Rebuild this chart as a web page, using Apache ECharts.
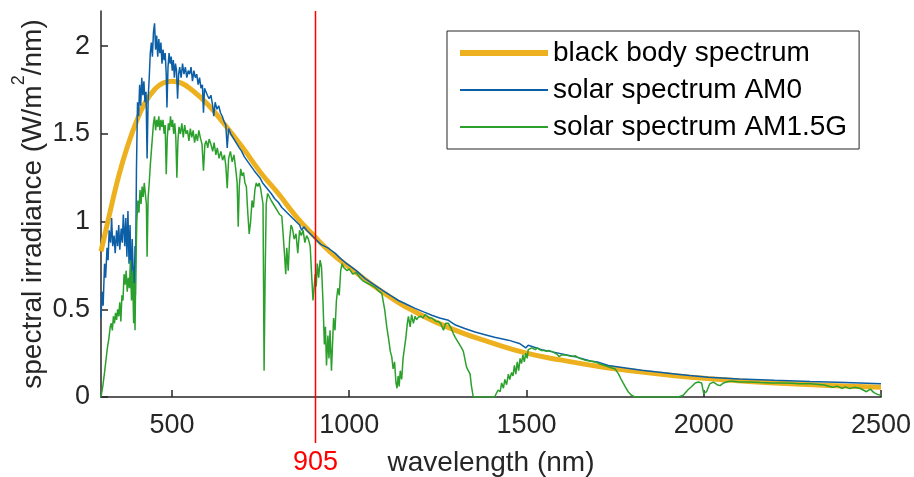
<!DOCTYPE html>
<html>
<head>
<meta charset="utf-8">
<script src="https://cdn.jsdelivr.net/npm/echarts@6/dist/echarts.min.js"></script>
<style>
html, body { margin: 0; padding: 0; background: #fff; }
#chart { width: 914px; height: 477px; }
</style>
</head>
<body>
<div id="chart"></div>
<script>
// black body curve
const bbWavelength = [300, 325, 350, 375, 400, 425, 450, 475, 500, 525, 550, 600, 650, 700, 750, 800,
  850, 900, 950, 1000, 1100, 1200, 1300, 1400, 1500, 1600, 1700, 1800, 1900, 2000, 2200, 2500];
const bbIrradiance = [0.83, 1.05, 1.26, 1.43, 1.57, 1.68, 1.75, 1.79, 1.80, 1.79, 1.76, 1.67, 1.55, 1.42, 1.28, 1.16,
  1.03, 0.92, 0.82, 0.74, 0.59, 0.47, 0.38, 0.31, 0.25, 0.21, 0.175, 0.148, 0.125, 0.107, 0.08, 0.055];

// AM0
const am0Wavelength = [300, 303, 306, 310, 313, 317, 320, 323, 327, 330, 333, 337, 340, 344, 347, 350, 353, 357, 360, 363,
  367, 370, 373, 376, 379, 382, 385, 388, 391, 393, 396, 397, 400, 403, 406, 409, 412, 415, 418, 421,
  424, 427, 430, 433, 436, 439, 442, 445, 448, 451, 454, 457, 460, 463, 466, 469, 472, 475, 478, 481,
  484, 486, 489, 492, 495, 498, 501, 504, 507, 510, 513, 516, 519, 522, 526, 530, 534, 538, 542, 546,
  550, 554, 558, 562, 566, 570, 574, 578, 582, 586, 589, 592, 596, 600, 605, 610, 615, 618, 622, 627,
  632, 637, 642, 647, 652, 656, 660, 666, 672, 678, 684, 690, 697, 704, 711, 718, 725, 732, 740, 748,
  756, 764, 772, 780, 790, 800, 810, 820, 830, 840, 850, 860, 866, 872, 880, 890, 900, 910, 920, 930,
  940, 950, 960, 975, 990, 1000, 1020, 1045, 1070, 1092, 1115, 1139, 1160, 1186, 1210, 1233, 1255, 1280, 1300, 1326,
  1355, 1383, 1410, 1449, 1480, 1498, 1505, 1543, 1590, 1637, 1680, 1700, 1731, 1780, 1825, 1870, 1919, 1960, 2013, 2100,
  2200, 2300, 2400, 2500];
const am0Irradiance = [0.45, 0.60, 0.52, 0.76, 0.68, 0.85, 0.78, 0.95, 0.88, 1.02, 0.86, 0.92, 0.82, 0.95, 0.86, 0.98, 0.84, 0.96, 0.88, 1.04,
  0.86, 1.02, 0.80, 1.06, 0.76, 0.98, 0.62, 0.90, 0.70, 0.55, 0.86, 0.58, 1.30, 1.68, 1.60, 1.78, 1.66, 1.82, 1.72, 1.80,
  1.68, 1.74, 1.36, 1.70, 1.82, 1.96, 2.02, 1.94, 2.08, 2.13, 1.98, 2.06, 1.94, 2.04, 1.96, 2.02, 1.90, 1.98, 1.92, 1.96,
  1.84, 1.65, 1.88, 1.96, 1.90, 1.94, 1.86, 1.92, 1.82, 1.90, 1.86, 1.70, 1.84, 1.88, 1.82, 1.90, 1.84, 1.88, 1.82, 1.86,
  1.84, 1.88, 1.80, 1.86, 1.82, 1.84, 1.78, 1.82, 1.76, 1.78, 1.62, 1.76, 1.74, 1.72, 1.70, 1.72, 1.66, 1.60, 1.68, 1.64,
  1.66, 1.62, 1.60, 1.57, 1.55, 1.42, 1.53, 1.50, 1.48, 1.46, 1.44, 1.42, 1.40, 1.37, 1.35, 1.33, 1.31, 1.29, 1.27, 1.25,
  1.22, 1.20, 1.18, 1.16, 1.13, 1.11, 1.08, 1.06, 1.04, 1.02, 1.00, 0.98, 0.95, 0.97, 0.95, 0.93, 0.91, 0.89, 0.87, 0.86,
  0.85, 0.835, 0.82, 0.79, 0.765, 0.75, 0.72, 0.675, 0.64, 0.61, 0.58, 0.55, 0.53, 0.505, 0.485, 0.466, 0.45, 0.437, 0.41, 0.39,
  0.37, 0.355, 0.34, 0.324, 0.305, 0.28, 0.295, 0.27, 0.25, 0.23, 0.205, 0.20, 0.18, 0.165, 0.153, 0.142, 0.131, 0.122, 0.113, 0.103,
  0.095, 0.088, 0.082, 0.075];

// AM1.5G
const am15Wavelength = [300, 305, 310, 314, 318, 322, 326, 329, 332, 335, 338, 341, 344, 347, 350, 353, 356, 359, 362, 365,
  368, 371, 374, 377, 380, 383, 386, 389, 392, 394, 396, 398, 401, 404, 407, 410, 413, 416, 419, 422,
  425, 428, 430, 433, 436, 439, 442, 445, 448, 451, 454, 457, 460, 463, 466, 469, 472, 475, 478, 481,
  484, 487, 490, 493, 496, 499, 502, 505, 508, 511, 514, 517, 520, 524, 528, 532, 536, 540, 544, 548,
  552, 556, 560, 564, 568, 572, 576, 580, 585, 589, 593, 597, 601, 605, 610, 615, 619, 624, 628, 633,
  638, 643, 648, 652, 656, 660, 665, 670, 675, 680, 684, 687, 690, 694, 698, 702, 706, 710, 714, 718,
  722, 726, 730, 734, 738, 742, 746, 750, 754, 757, 760, 763, 766, 770, 775, 780, 786, 792, 798, 804,
  810, 814, 818, 821, 824, 828, 832, 836, 840, 845, 850, 855, 860, 865, 870, 875, 880, 885, 890, 894,
  898, 901, 904, 907, 910, 914, 918, 922, 926, 930, 933, 936, 940, 943, 946, 950, 953, 956, 960, 964,
  968, 972, 976, 980, 984, 988, 994, 1000, 1010, 1020, 1030, 1040, 1050, 1060, 1073, 1085, 1092, 1100, 1106, 1112,
  1116, 1120, 1124, 1128, 1132, 1135, 1138, 1141, 1144, 1148, 1152, 1156, 1160, 1164, 1167, 1172, 1176, 1181, 1186, 1190,
  1195, 1202, 1208, 1214, 1220, 1226, 1233, 1240, 1246, 1252, 1258, 1266, 1272, 1280, 1288, 1294, 1299, 1305, 1311, 1317,
  1322, 1326, 1331, 1336, 1341, 1345, 1350, 1410, 1415, 1420, 1426, 1430, 1435, 1439, 1444, 1449, 1453, 1458, 1462, 1466,
  1470, 1474, 1478, 1482, 1486, 1490, 1494, 1498, 1502, 1505, 1510, 1515, 1519, 1525, 1531, 1537, 1543, 1550, 1556, 1562,
  1571, 1580, 1586, 1592, 1599, 1610, 1620, 1630, 1637, 1650, 1665, 1680, 1693, 1705, 1721, 1735, 1750, 1760, 1768, 1778,
  1787, 1796, 1806, 1928, 1942, 1955, 1966, 1976, 1985, 1994, 2000, 2003, 2008, 2017, 2027, 2038, 2046, 2056, 2064, 2075,
  2083, 2100, 2130, 2160, 2190, 2220, 2250, 2270, 2300, 2318, 2340, 2355, 2365, 2375, 2390, 2400, 2412, 2425, 2440, 2450,
  2459, 2470, 2480, 2490, 2500];
const am15Irradiance = [0.0, 0.06, 0.14, 0.21, 0.28, 0.33, 0.40, 0.42, 0.38, 0.46, 0.42, 0.48, 0.44, 0.50, 0.46, 0.54, 0.43, 0.58, 0.55, 0.70,
  0.64, 0.72, 0.60, 0.68, 0.62, 0.78, 0.55, 0.72, 0.42, 0.65, 0.38, 0.70, 1.00, 1.12, 1.05, 1.18, 1.10, 1.20, 1.14, 1.22,
  1.16, 1.10, 0.80, 1.14, 1.22, 1.32, 1.40, 1.48, 1.56, 1.60, 1.52, 1.58, 1.54, 1.60, 1.52, 1.58, 1.54, 1.58, 1.50, 1.55,
  1.27, 1.48, 1.56, 1.52, 1.60, 1.54, 1.58, 1.50, 1.56, 1.48, 1.25, 1.46, 1.54, 1.50, 1.56, 1.48, 1.55, 1.50, 1.52, 1.46,
  1.53, 1.48, 1.52, 1.45, 1.50, 1.46, 1.52, 1.48, 1.44, 1.29, 1.44, 1.46, 1.42, 1.47, 1.44, 1.40, 1.45, 1.38, 1.42, 1.36,
  1.40, 1.35, 1.38, 1.32, 1.19, 1.36, 1.40, 1.34, 1.38, 1.30, 1.22, 0.97, 1.20, 1.30, 1.26, 1.28, 1.22, 1.20, 1.05, 0.93,
  1.00, 1.12, 1.08, 1.18, 1.22, 1.20, 1.22, 1.19, 1.20, 1.10, 0.15, 0.70, 1.10, 1.16, 1.14, 1.12, 1.10, 1.08, 1.06, 1.04,
  1.03, 0.92, 0.80, 0.70, 0.85, 0.72, 0.90, 0.98, 0.96, 0.90, 0.93, 0.82, 0.95, 0.92, 0.95, 0.88, 0.92, 0.90, 0.86, 0.70,
  0.55, 0.62, 0.70, 0.63, 0.76, 0.68, 0.78, 0.74, 0.55, 0.30, 0.40, 0.18, 0.35, 0.22, 0.38, 0.15, 0.30, 0.45, 0.38, 0.55,
  0.62, 0.58, 0.72, 0.76, 0.74, 0.75, 0.72, 0.73, 0.70, 0.71, 0.68, 0.66, 0.65, 0.64, 0.625, 0.60, 0.59, 0.50, 0.40, 0.32,
  0.26, 0.23, 0.16, 0.20, 0.08, 0.05, 0.12, 0.06, 0.15, 0.10, 0.22, 0.28, 0.34, 0.42, 0.46, 0.40, 0.47, 0.42, 0.46, 0.44,
  0.455, 0.46, 0.45, 0.47, 0.46, 0.45, 0.45, 0.44, 0.43, 0.43, 0.42, 0.38, 0.42, 0.42, 0.39, 0.36, 0.34, 0.32, 0.30, 0.28,
  0.26, 0.22, 0.17, 0.15, 0.13, 0.06, 0.0, 0.0, 0.02, 0.04, 0.03, 0.08, 0.05, 0.10, 0.07, 0.13, 0.10, 0.14, 0.12, 0.18,
  0.13, 0.20, 0.15, 0.22, 0.19, 0.24, 0.20, 0.25, 0.22, 0.27, 0.26, 0.28, 0.28, 0.27, 0.28, 0.27, 0.265, 0.265, 0.26, 0.265,
  0.26, 0.25, 0.245, 0.23, 0.24, 0.24, 0.235, 0.23, 0.235, 0.22, 0.21, 0.205, 0.20, 0.19, 0.18, 0.17, 0.16, 0.13, 0.097, 0.06,
  0.03, 0.01, 0.0, 0.0, 0.01, 0.04, 0.06, 0.08, 0.085, 0.08, 0.02, 0.01, 0.03, 0.075, 0.085, 0.07, 0.065, 0.08, 0.085, 0.09,
  0.09, 0.085, 0.085, 0.082, 0.08, 0.08, 0.078, 0.076, 0.075, 0.072, 0.068, 0.06, 0.055, 0.062, 0.05, 0.058, 0.048, 0.055, 0.05, 0.04,
  0.03, 0.045, 0.025, 0.015, 0.01];

const xTicks = [500, 1000, 1500, 2000, 2500];
const yTicks = [0, 0.5, 1, 1.5, 2];
const laserWavelength = 905;

const pairs = (xs, ys) => xs.map((x, i) => [x, ys[i]]);

const font = 'Liberation Sans, Arial, Helvetica, sans-serif';
const axisColor = '#262626';

const chart = echarts.init(document.getElementById('chart'));
chart.setOption({
  animation: false,
  backgroundColor: '#fff',
  grid: { left: 101, right: 33, top: 11, bottom: 80, containLabel: false, outerBoundsMode: 'none' },
  legend: {
    orient: 'vertical',
    left: 447,
    top: 31,
    padding: [8, 12, 8, 10],
    itemWidth: 88,
    itemHeight: 14,
    itemGap: 9,
    borderColor: axisColor,
    borderWidth: 1,
    backgroundColor: '#fff',
    itemStyle: { opacity: 0 },
    textStyle: { fontFamily: font, fontSize: 28, color: '#000' },
    data: [
      { name: 'black body spectrum', lineStyle: { width: 6, opacity: 1 } },
      { name: 'solar spectrum AM0', lineStyle: { width: 2, opacity: 1 } },
      { name: 'solar spectrum AM1.5G', lineStyle: { width: 2, opacity: 1 } },
    ],
  },
  xAxis: {
    type: 'value',
    min: 300,
    max: 2500,
    name: 'wavelength (nm)',
    nameLocation: 'middle',
    nameGap: 52,
    nameMoveOverlap: false,
    nameTextStyle: { fontFamily: font, fontSize: 28, color: axisColor },
    axisLine: { lineStyle: { color: axisColor, width: 1.5 } },
    axisTick: { inside: true, length: 7, customValues: xTicks, lineStyle: { color: axisColor, width: 1.5 } },
    axisLabel: {
      customValues: xTicks,
      margin: 15,
      formatter: (v) => String(v),
      fontFamily: font,
      fontSize: 27,
      color: axisColor,
    },
    splitLine: { show: false },
  },
  yAxis: {
    type: 'value',
    min: 0,
    max: 2.2,
    name: 'spectral irradiance (W/m{sup|2}/nm)',
    nameLocation: 'middle',
    nameRotate: 90,
    nameGap: 45,
    nameMoveOverlap: false,
    nameTextStyle: {
      fontFamily: font,
      fontSize: 28,
      color: axisColor,
      rich: { sup: { fontFamily: font, fontSize: 18, color: axisColor, verticalAlign: 'bottom', padding: [0, 0, 28, 0] } },
    },
    axisLine: { show: true, lineStyle: { color: axisColor, width: 1.5 } },
    axisTick: { show: true, inside: true, length: 7, customValues: yTicks, lineStyle: { color: axisColor, width: 1.5 } },
    axisLabel: { customValues: yTicks, margin: 11, fontFamily: font, fontSize: 27, color: axisColor },
    splitLine: { show: false },
  },
  series: [
    {
      name: 'black body spectrum',
      type: 'line',
      smooth: true,
      symbol: 'none',
      color: '#EDB120',
      lineStyle: { width: 5, color: '#EDB120' },
      data: pairs(bbWavelength, bbIrradiance),
    },
    {
      name: 'solar spectrum AM0',
      type: 'line',
      symbol: 'none',
      color: '#0c5fa6',
      lineStyle: { width: 1.5, color: '#0c5fa6' },
      data: pairs(am0Wavelength, am0Irradiance),
    },
    {
      name: 'solar spectrum AM1.5G',
      type: 'line',
      symbol: 'none',
      color: '#2ca02c',
      lineStyle: { width: 1.5, color: '#2ca02c' },
      data: pairs(am15Wavelength, am15Irradiance),
    },
  ],
});

// red marker at 905 nm, running below the axis to its label
const markTop = chart.convertToPixel({ gridIndex: 0 }, [laserWavelength, 2.2]);
const markBase = chart.convertToPixel({ gridIndex: 0 }, [laserWavelength, 0]);
chart.setOption({
  graphic: [
    {
      type: 'line',
      z: 100,
      shape: { x1: markTop[0], y1: markTop[1], x2: markBase[0], y2: markBase[1] + 46 },
      style: { stroke: '#ff0000', lineWidth: 1.5 },
    },
    {
      type: 'text',
      z: 100,
      x: markBase[0],
      y: markBase[1] + 52,
      style: { text: String(laserWavelength), fill: '#ff0000', font: '27px ' + font, align: 'center', verticalAlign: 'top' },
    },
  ],
});
</script>
</body>
</html>
